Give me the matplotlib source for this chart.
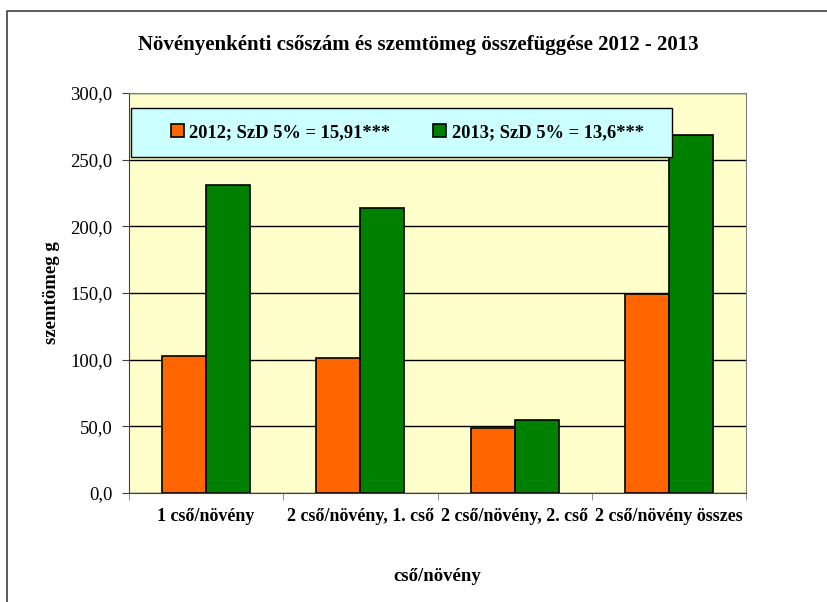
import matplotlib
matplotlib.use("Agg")
import matplotlib.pyplot as plt
import numpy as np
from matplotlib.patches import Rectangle
from matplotlib.lines import Line2D

# adatok
categories = ["1 cső/növény", "2 cső/növény, 1. cső", "2 cső/növény, 2. cső", "2 cső/növény összes"]
values_2012 = [103.0, 101.0, 48.5, 149.3]
values_2013 = [231.0, 214.0, 54.8, 268.5]
label_2012 = "2012; SzD 5% = 15,91***"
label_2013 = "2013; SzD 5% = 13,6***"
yticks = [0, 50, 100, 150, 200, 250, 300]

plt.rcParams['font.family'] = ['Liberation Serif', 'DejaVu Serif']

fig = plt.figure(figsize=(8.27, 6.02), dpi=100)
ax = fig.add_axes([129 / 827, 109 / 602, 617 / 827, 400 / 602])

# keret (csak felső és bal oldal látszik)
fig.add_artist(Line2D([7 / 827, 7 / 827, 1.0], [0.0, 1 - 11 / 602, 1 - 11 / 602],
                      transform=fig.transFigure, color='#404040', linewidth=1.2))

x = np.arange(len(categories))
w = 0.286
ax.set_facecolor('#FFFFCC')
ax.bar(x - w / 2, values_2012, w, color='#FF6600', edgecolor='black', linewidth=1.2, zorder=3, label=label_2012)
ax.bar(x + w / 2, values_2013, w, color='#008000', edgecolor='black', linewidth=1.2, zorder=3, label=label_2013)

ax.set_xlim(-0.5, len(categories) - 0.5)
ax.set_ylim(0, 300)
ax.set_yticks(yticks)
ax.set_yticklabels([f"{v:.1f}".replace('.', ',') for v in yticks], fontsize=13.5)
ax.yaxis.grid(True, color='black', linewidth=1, zorder=1)
ax.set_axisbelow(True)

ax.set_xticks(x)
ax.set_xticklabels(categories, fontsize=13, fontweight='bold')
ax.set_xticks(np.arange(-0.5, len(categories)), minor=True)
ax.tick_params(axis='x', which='major', length=0, pad=11)
ax.tick_params(axis='x', which='minor', length=5, direction='out', color='#808080')
ax.tick_params(axis='y', length=5, direction='out', color='#404040', pad=7)

for s in ['top', 'right']:
    ax.spines[s].set_color('#808080')
ax.spines['left'].set_color('#404040')
ax.spines['bottom'].set_color('#404040')

ax.set_ylabel("szemtömeg g", fontsize=13.5, fontweight='bold', labelpad=7)
ax.set_xlabel("cső/növény", fontsize=13.5, fontweight='bold', labelpad=31)
fig.text(0.506, 0.925, "Növényenkénti csőszám és szemtömeg összefüggése 2012 - 2013",
         ha='center', va='center', fontsize=15, fontweight='bold')

# jelmagyarázat doboz
ax.add_patch(Rectangle((0.003, 0.84), 0.877, 0.1225, transform=ax.transAxes,
                       facecolor='#CCFFFF', edgecolor='black', linewidth=1, zorder=4))
leg = ax.legend(loc='center', bbox_to_anchor=(0.451, 0.901), ncol=2, frameon=False,
                prop={'weight': 'bold', 'size': 13.3}, handlelength=0.7, handleheight=0.7,
                handletextpad=0.3, columnspacing=2.3)
leg.set_zorder(5)

fig.savefig("out.png", dpi=100)
